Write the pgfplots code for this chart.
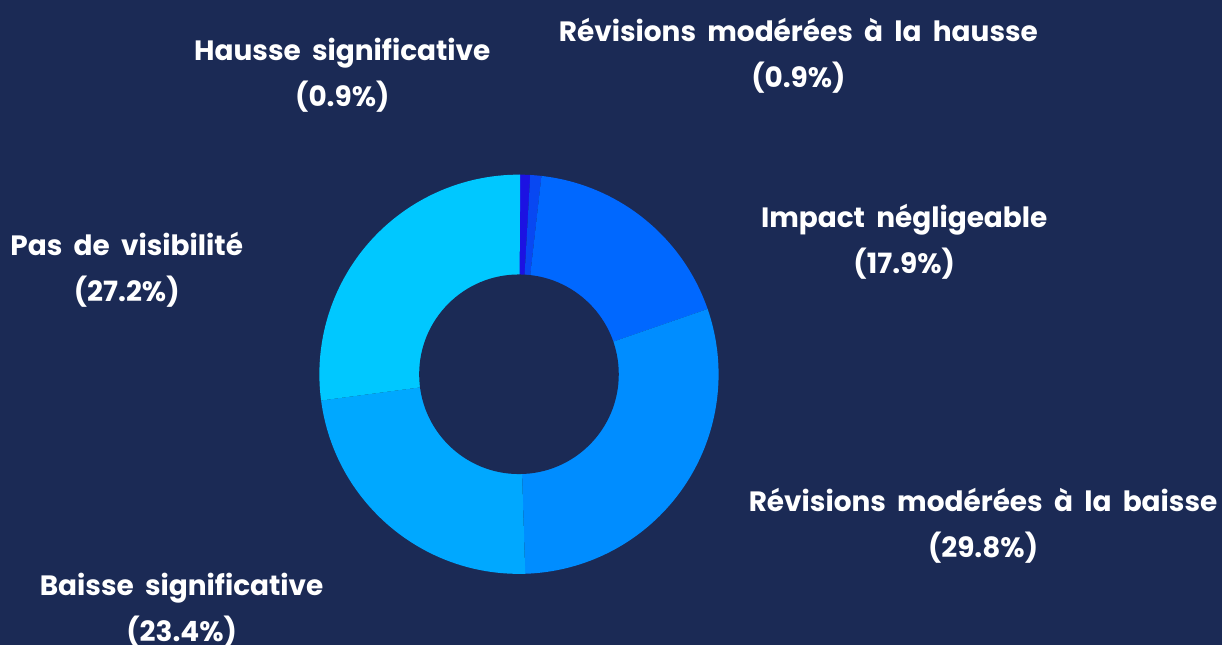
\documentclass[border=0pt]{standalone}
\usepackage{pgfplots}
\pgfplotsset{compat=1.18}
\usepackage{pgfplotstable}
\usepackage{fontspec}
\setmainfont{Poppins}[WordSpace=1.9]
\definecolor{bg}{HTML}{1B2A55}
\definecolor{c1}{HTML}{1C12E2}
\definecolor{c2}{HTML}{0848F2}
\definecolor{c3}{HTML}{0068FF}
\definecolor{c4}{HTML}{008DFF}
\definecolor{c5}{HTML}{00A8FF}
\definecolor{c6}{HTML}{00C8FF}

% share (%) and slice colour, clockwise from the top
\pgfplotstableread{
share col
0.9 c1
0.9 c2
17.9 c3
29.8 c4
23.4 c5
27.2 c6
}\shares

\begin{document}
\begin{tikzpicture}
\begin{axis}[
  width=612pt, height=323pt, scale only axis,
  xmin=0, xmax=1224, ymin=0, ymax=646,
  hide axis, clip=false,
]
\fill[bg] (axis cs:0,0) rectangle (axis cs:1224,646);
\pgfplotstablegetrowsof{\shares}
\pgfmathtruncatemacro{\nrows}{\pgfplotsretval-1}
\xdef\cumshare{0}
\foreach \i in {0,...,\nrows}{
  \pgfplotstablegetelem{\i}{share}\of{\shares}\let\sval\pgfplotsretval
  \pgfplotstablegetelem{\i}{col}\of{\shares}\let\scol\pgfplotsretval
  \pgfmathsetmacro{\angA}{90-\cumshare*3.6}
  \pgfmathsetmacro{\angB}{90-(\cumshare+\sval)*3.6}
  \edef\slice{\noexpand\fill[\scol] (axis cs:520,271) -- ++(\angA:100pt) arc[start angle=\angA, end angle=\angB, radius=100pt] -- cycle;}
  \slice
  \pgfmathsetmacro{\newcum}{\cumshare+\sval}
  \xdef\cumshare{\newcum}
}
\fill[bg] (axis cs:520,271) circle[radius=50pt];
\begin{scope}[every node/.style={text=white, align=center, font=\fontsize{14}{23}\selectfont\bfseries}]
\node at (axis cs:343,571) {Hausse significative\\(0.9\%)};
\node at (axis cs:800,590) {Révisions modérées à la hausse\\(0.9\%)};
\node at (axis cs:906,404) {Impact négligeable\\(17.9\%)};
\node at (axis cs:985,119) {Révisions modérées à la baisse\\(29.8\%)};
\node at (axis cs:182,35) {Baisse significative\\(23.4\%)};
\node at (axis cs:127,376) {Pas de visibilité\\(27.2\%)};
\end{scope}
\end{axis}
\end{tikzpicture}
\end{document}
